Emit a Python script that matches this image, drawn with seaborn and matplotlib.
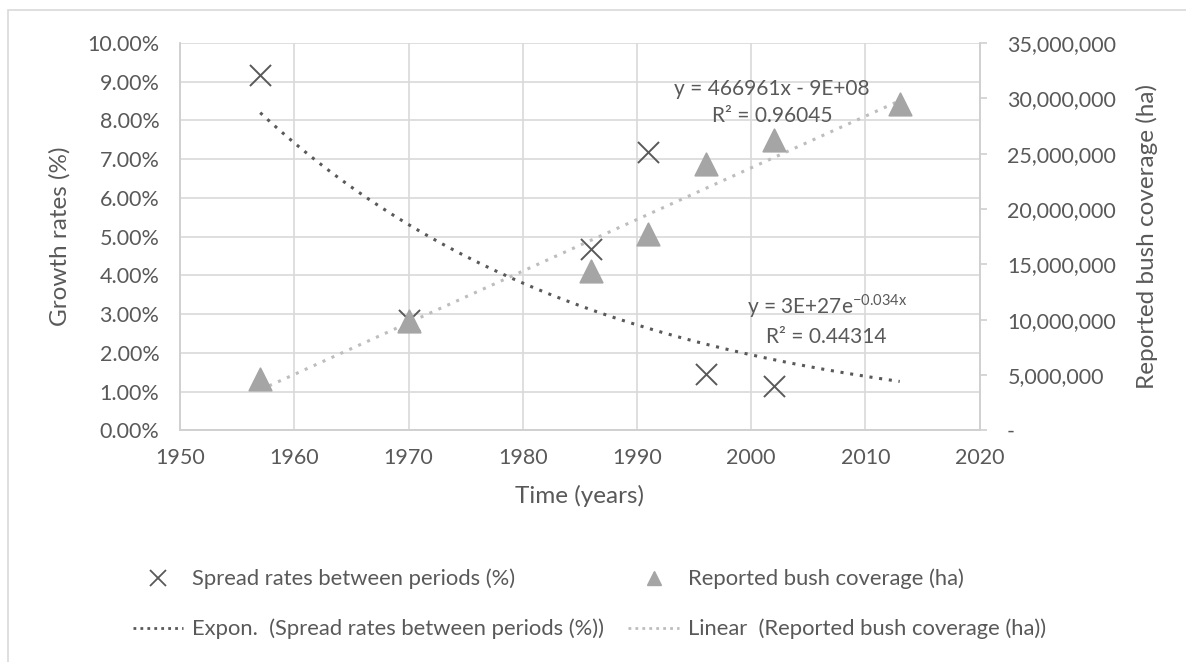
import numpy as np
import pandas as pd
import seaborn as sns
import matplotlib.pyplot as plt
from matplotlib.lines import Line2D
from matplotlib.patches import Rectangle
from matplotlib.ticker import FuncFormatter

# data
spread_years = [1957, 1970, 1986, 1991, 1996, 2002]
spread_rates = [9.17, 2.84, 4.68, 7.18, 1.45, 1.14]          # %
bush_years = [1957, 1970, 1986, 1991, 1996, 2002, 2013]
bush_cover = [4.6e6, 9.9e6, 14.4e6, 17.7e6, 24.1e6, 26.2e6, 29.5e6]  # ha

spread = pd.DataFrame({'year': spread_years, 'rate': spread_rates})
bush = pd.DataFrame({'year': bush_years, 'cover': bush_cover})

sns.set_style('white')
plt.rcParams['font.family'] = ['Lato', 'DejaVu Sans']
txt = '#595959'
dark = '#595959'
light = '#A5A5A5'

fig = plt.figure(figsize=(11.86, 6.62), dpi=100)
ax = fig.add_axes([0.152, 0.350, 0.674, 0.585])
ax2 = ax.twinx()

# trend lines (fitted from the points, like Excel trendlines)
xs = np.linspace(1957, 2013, 200)
b, a = np.polyfit(spread['year'], np.log(spread['rate']), 1)
exp_fit = pd.DataFrame({'year': xs, 'val': np.exp(a + b * xs)})
m, c = np.polyfit(bush['year'], bush['cover'], 1)
lin_fit = pd.DataFrame({'year': xs, 'val': m * xs + c})

sns.lineplot(data=exp_fit, x='year', y='val', ax=ax, color=dark,
             linestyle=(0, (1, 2.2)), linewidth=2.2)
sns.lineplot(data=lin_fit, x='year', y='val', ax=ax2, color='#BDBDBD',
             linestyle=(0, (1, 2.2)), linewidth=2.2)

sns.scatterplot(data=spread, x='year', y='rate', ax=ax, marker='x', s=230,
                color=dark, linewidth=1.4, zorder=5)
sns.scatterplot(data=bush, x='year', y='cover', ax=ax2, marker='^', s=260,
                color=light, edgecolor=light, zorder=5)

ax.set_xlim(1950, 2020)
ax.set_ylim(0, 10)
ax2.set_ylim(0, 35e6)
ax.set_xticks(range(1950, 2021, 10))
ax.set_yticks(np.arange(0, 10.01, 1))
ax2.set_yticks(np.arange(0, 35e6 + 1, 5e6))
ax.yaxis.set_major_formatter(FuncFormatter(lambda v, p: f'{v:.2f}%'))
ax2.yaxis.set_major_formatter(FuncFormatter(lambda v, p: '-      ' if v == 0 else f'{v:,.0f}'))

ax.grid(True, color='#D9D9D9', linewidth=1.2)
ax2.grid(False)
ax.spines['top'].set_visible(False)
ax2.spines['top'].set_visible(False)
for a_ in (ax, ax2):
    for s in ['left', 'bottom', 'right']:
        a_.spines[s].set_color('#D0D0D0')
        a_.spines[s].set_linewidth(1.2)
ax.tick_params(axis='y', colors=txt, labelsize=15.5, length=0, pad=15)
ax.tick_params(axis='x', colors=txt, labelsize=15.5, length=0, pad=13)
ax2.tick_params(axis='y', colors=txt, labelsize=15.5, length=5, width=1.2,
                direction='out', pad=15)
ax2.tick_params(axis='y', color='#D0D0D0')

ax.set_xlabel('Time (years)', fontsize=17.5, color=txt, labelpad=12)
ax.set_ylabel('Growth rates (%)', fontsize=17.5, color=txt, labelpad=12)
ax2.set_ylabel('Reported bush coverage (ha)', fontsize=17.5, color=txt, labelpad=14)

ax.text(2001.8, 8.47, 'y = 466961x - 9E+08\nR² = 0.96045', ha='center', va='center',
        fontsize=15, color=txt, linespacing=1.45)
ax.text(2006.6, 2.87, 'y = 3E+27e$^{\\mathregular{-0.034x}}$\nR² = 0.44314', ha='center',
        va='center', fontsize=15, color=txt, linespacing=1.45)

handles = [
    Line2D([], [], marker='x', color=dark, linestyle='none', markersize=12, markeredgewidth=1.3),
    Line2D([], [], marker='^', color=light, linestyle='none', markersize=10),
    Line2D([], [], color=dark, linestyle=(0, (1, 1.5)), linewidth=2),
    Line2D([], [], color='#BDBDBD', linestyle=(0, (1, 1.5)), linewidth=2),
]
labels = ['Spread rates between periods (%)', 'Reported bush coverage (ha)',
          'Expon.  (Spread rates between periods (%))',
          'Linear  (Reported bush coverage (ha))']
order = [0, 2, 1, 3]
leg = fig.legend([handles[i] for i in order], [labels[i] for i in order], ncol=2,
                 loc='center left', bbox_to_anchor=(133 / 1186, 0.0876), frameon=False,
                 fontsize=15.8, labelcolor=txt, handlelength=2.3, columnspacing=1.1,
                 labelspacing=1.35, handletextpad=0.4, borderpad=0, borderaxespad=0)

fig.patches.append(Rectangle((8 / 1186, -0.1), 1.2, 1 - 10 / 662 + 0.1,
                             transform=fig.transFigure, fill=False,
                             edgecolor='#D9D9D9', linewidth=1.2))

fig.savefig('out.png', dpi=100)
